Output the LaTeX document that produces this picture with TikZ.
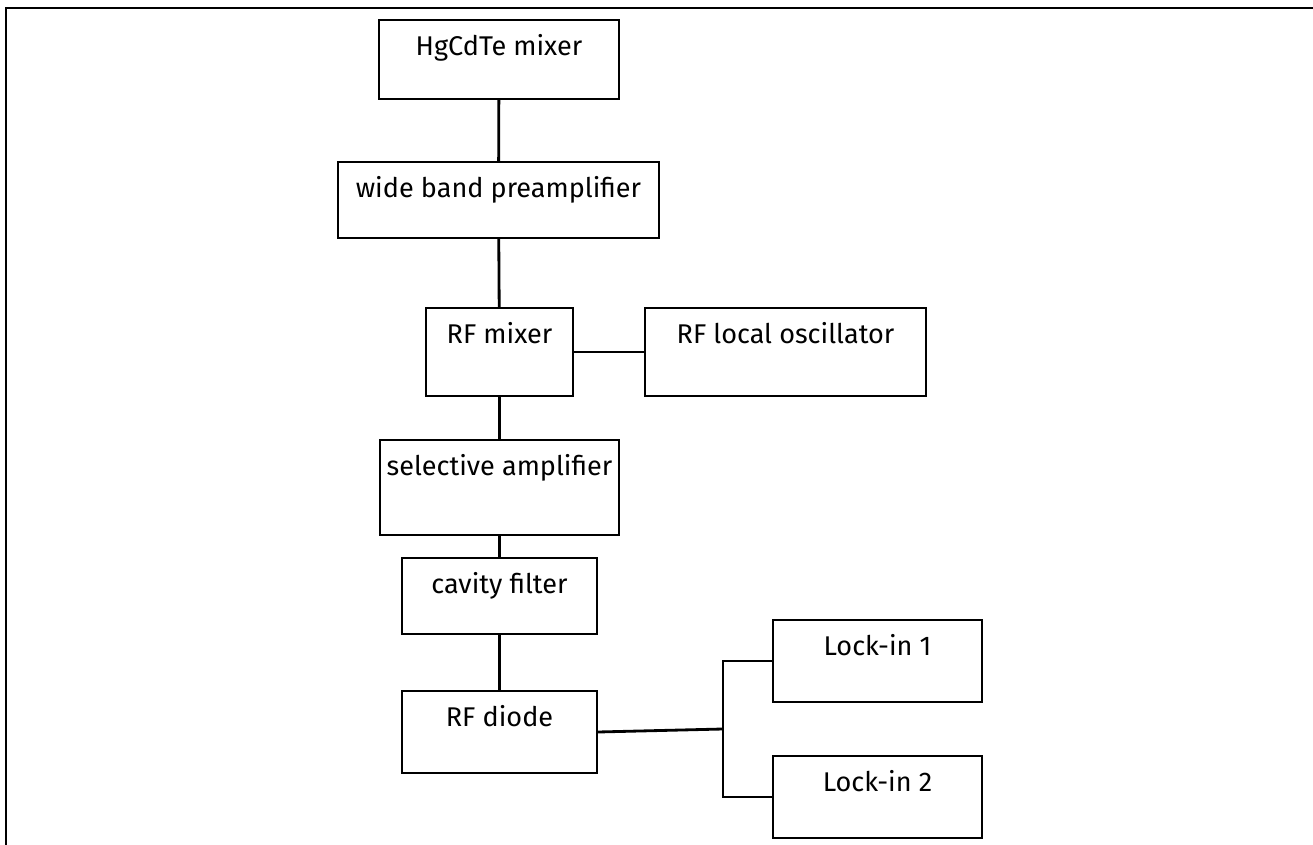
\documentclass[tikz,border=0pt]{standalone}
\usepackage{fontspec}
\setmainfont{Fira Sans}
\usepackage{xcolor}

\begin{document}
\begin{tikzpicture}[x=0.02cm,y=-0.02cm,line width=1.2pt,
  unit/.style={draw,rectangle,inner sep=0pt,minimum width=#1,text height=0.7cm,font=\fontsize{15.4}{18}\selectfont},
  wire/.style={-,draw=black,line width=1.6pt}]

\clip (0,0) rectangle (1313,845);
\draw[line width=1.3pt] (6,900) -- (6,8) -- (1400,8);

% chain
\node[unit=4.8cm,text depth=0.88cm] (mix) at (499,59.5) {HgCdTe mixer};
\node[unit=6.42cm,text depth=0.82cm] (preamp) at (498.5,200) {wide band preamplifier};
\node[unit=2.94cm,text depth=1.06cm] (rfmix) at (499.5,352) {RF mixer};
\node[unit=5.62cm,text depth=1.06cm] (lo) at (785.5,352) {RF local oscillator};
\node[unit=4.78cm,text depth=1.2cm] (selamp) at (499.5,487.5) {selective amplifier};
\node[unit=3.9cm,text depth=0.82cm] (cavity) at (499.5,596) {cavity filter};
\node[unit=3.9cm,text depth=0.94cm] (diode) at (499.5,732) {RF diode};

% lock-ins
\node[unit=4.18cm,text depth=0.94cm] (lock1) at (877.5,661) {Lock-in 1};
\node[unit=4.18cm,text depth=0.94cm] (lock2) at (877.5,797) {Lock-in 2};

\coordinate (split) at (723,729);

\draw[wire] (mix) to (preamp);
\draw[wire] (preamp) to (rfmix);
\draw[wire] (rfmix) to (lo);
\draw[wire] (rfmix) to (selamp);
\draw[wire] (selamp) to (cavity);
\draw[wire] (cavity) to (diode);

\draw[wire] (diode.east) -- (split);
\draw[wire] (lock1.west) -| (split) |- (lock2.west);

\end{tikzpicture}
\end{document}
